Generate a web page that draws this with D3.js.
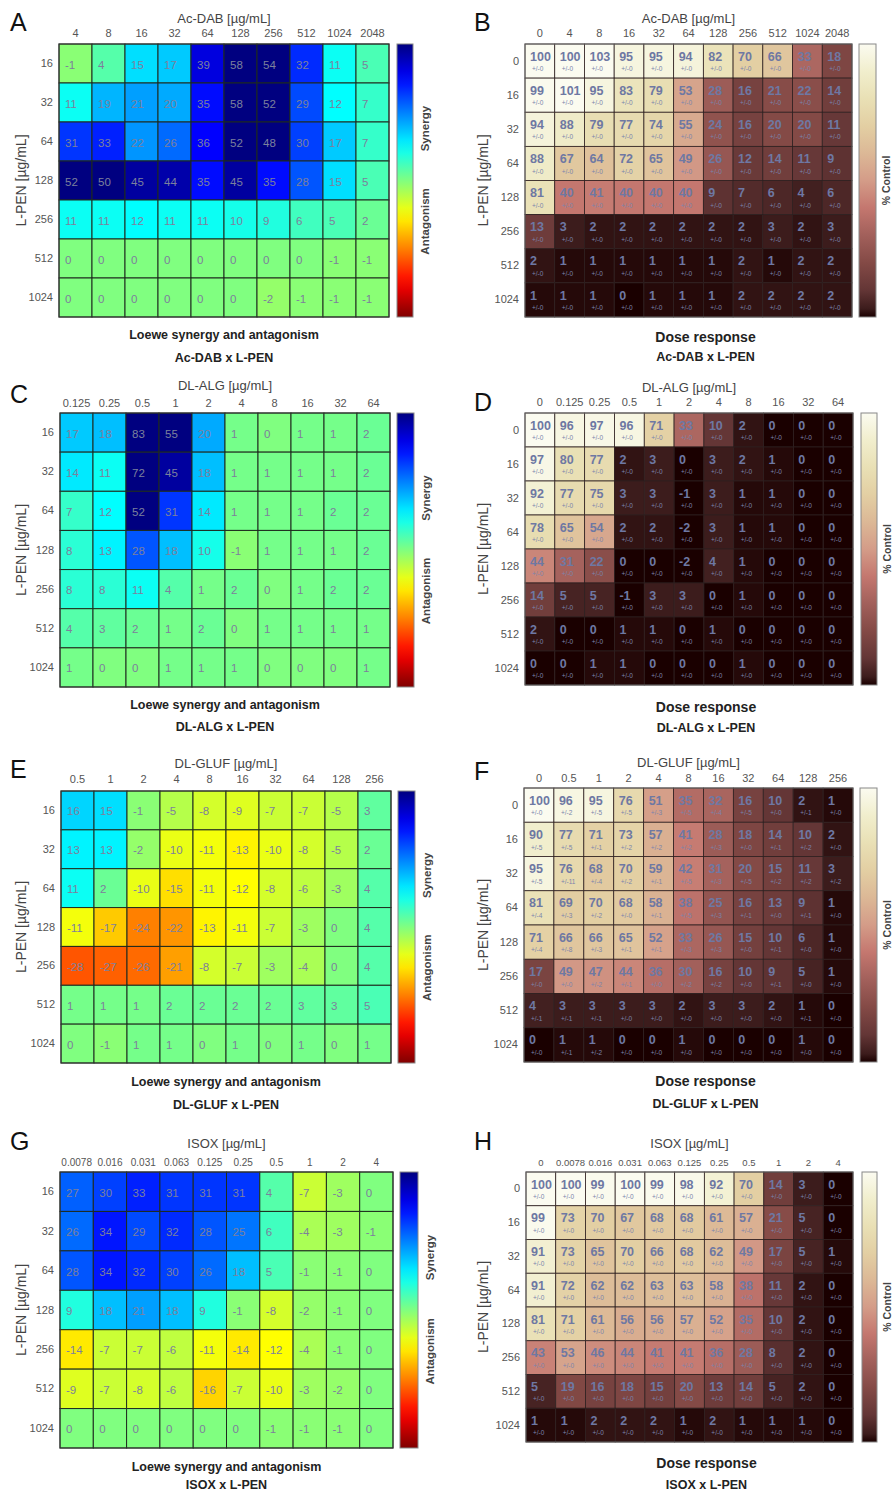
<!DOCTYPE html>
<html><head><meta charset="utf-8">
<script src="https://cdn.jsdelivr.net/npm/d3@7"></script>
<style>body{margin:0;background:#fff;} svg text{font-family:"Liberation Sans",Arial,sans-serif;}</style>
</head><body><svg id="c" width="892" height="1494"></svg>
<script>
// ---------- DATA ----------
const lpenLoewe = ["16","32","64","128","256","512","1024"];
const lpenDose = ["0","16","32","64","128","256","512","1024"];

const acdabLoeweX = ["4","8","16","32","64","128","256","512","1024","2048"];
const acdabLoewe = [
 [-1,4,15,17,39,58,54,32,11,5],
 [11,19,21,20,35,58,52,29,12,7],
 [31,33,22,26,36,52,48,30,17,7],
 [52,50,45,44,35,45,35,28,15,5],
 [11,11,12,11,11,10,9,6,5,2],
 [0,0,0,0,0,0,0,0,-1,-1],
 [0,0,0,0,0,0,-2,-1,-1,-1]];
const acdabDoseX = ["0","4","8","16","32","64","128","256","512","1024","2048"];
const acdabDose = [
 [100,100,103,95,95,94,82,70,66,33,18],
 [99,101,95,83,79,53,28,16,21,22,14],
 [94,88,79,77,74,55,24,16,20,20,11],
 [88,67,64,72,65,49,26,12,14,11,9],
 [81,40,41,40,40,40,9,7,6,4,6],
 [13,3,2,2,2,2,2,2,3,2,3],
 [2,1,1,1,1,1,1,2,1,2,2],
 [1,1,1,0,1,1,1,2,2,2,2]];
const acdabDoseErr = [
 [0,0,0,0,0,0,0,0,0,0,0],
 [0,0,0,0,0,0,0,0,0,0,0],
 [0,0,0,0,0,0,0,0,0,0,0],
 [0,0,0,0,0,0,0,0,0,0,0],
 [0,0,0,0,0,0,0,0,0,0,0],
 [0,0,0,0,0,0,0,0,0,0,0],
 [0,0,0,0,0,0,0,0,0,0,0],
 [0,0,0,0,0,0,0,0,0,0,0]];

const dlalgLoeweX = ["0.125","0.25","0.5","1","2","4","8","16","32","64"];
const dlalgLoewe = [
 [17,18,83,55,20,1,0,1,1,2],
 [14,11,72,45,18,1,1,1,1,2],
 [7,12,52,31,14,1,1,1,2,2],
 [8,13,28,18,10,-1,1,1,1,2],
 [8,8,11,4,1,2,0,1,2,2],
 [4,3,2,1,2,0,1,1,1,1],
 [1,0,0,1,1,1,0,0,0,1]];
const dlalgDoseX = ["0","0.125","0.25","0.5","1","2","4","8","16","32","64"];
const dlalgDose = [
 [100,96,97,96,71,33,10,2,0,0,0],
 [97,80,77,2,3,0,3,2,1,0,0],
 [92,77,75,3,3,-1,3,1,1,0,0],
 [78,65,54,2,2,-2,3,1,1,0,0],
 [44,31,22,0,0,-2,4,1,0,0,0],
 [14,5,5,-1,3,3,0,1,0,0,0],
 [2,0,0,1,1,0,1,0,0,0,0],
 [0,0,1,1,0,0,0,1,0,0,0]];
const dlalgDoseErr = [
 [0,0,0,0,0,0,0,0,0,0,0],
 [0,0,0,0,0,0,0,0,0,0,0],
 [0,0,0,0,0,0,0,0,0,0,0],
 [0,0,0,0,0,0,0,0,0,0,0],
 [0,0,0,0,0,0,0,0,0,0,0],
 [0,0,0,0,0,0,0,0,0,0,0],
 [0,0,0,0,0,0,0,0,0,0,0],
 [0,0,0,0,0,0,0,0,0,0,0]];

const dlglufLoeweX = ["0.5","1","2","4","8","16","32","64","128","256"];
const dlglufLoewe = [
 [16,15,-1,-5,-8,-9,-7,-7,-5,3],
 [13,13,-2,-10,-11,-13,-10,-8,-5,2],
 [11,2,-10,-15,-11,-12,-8,-6,-3,4],
 [-11,-17,-24,-22,-13,-11,-7,-3,0,4],
 [-28,-27,-26,-21,-8,-7,-3,-4,0,4],
 [1,1,1,2,2,2,2,3,3,5],
 [0,-1,1,1,0,1,0,1,0,1]];
const dlglufDoseX = ["0","0.5","1","2","4","8","16","32","64","128","256"];
const dlglufDose = [
 [100,96,95,76,51,35,32,16,10,2,1],
 [90,77,71,73,57,41,28,18,14,10,2],
 [95,76,68,70,59,42,31,20,15,11,3],
 [81,69,70,68,58,38,25,16,13,9,1],
 [71,66,66,65,52,33,26,15,10,6,1],
 [17,49,47,44,36,30,16,10,9,5,1],
 [4,3,3,3,3,2,3,3,2,1,0],
 [0,1,1,0,0,1,0,0,0,1,0]];
const dlglufDoseErr = [
 [0,2,5,5,3,5,4,5,0,1,0],
 [5,5,1,2,2,2,3,0,1,2,0],
 [5,11,4,2,1,5,3,5,2,2,2],
 [4,3,2,0,1,5,3,1,0,1,0],
 [4,8,3,1,1,3,3,0,1,0,0],
 [0,0,2,1,0,2,2,0,1,0,0],
 [1,1,1,0,0,0,0,0,0,1,0],
 [0,1,2,0,0,0,0,0,0,0,0]];

const isoxLoeweX = ["0.0078","0.016","0.031","0.063","0.125","0.25","0.5","1","2","4"];
const isoxLoewe = [
 [27,30,33,31,31,31,4,-7,-3,0],
 [26,34,29,32,28,25,6,-4,-3,-1],
 [28,34,32,30,26,18,5,-1,-1,0],
 [9,18,21,18,9,-1,-8,-2,-1,0],
 [-14,-7,-7,-6,-11,-14,-12,-4,-1,0],
 [-9,-7,-8,-6,-16,-7,-10,-3,-2,0],
 [0,0,0,0,0,0,-1,-1,-1,0]];
const isoxDoseX = ["0","0.0078","0.016","0.031","0.063","0.125","0.25","0.5","1","2","4"];
const isoxDose = [
 [100,100,99,100,99,98,92,70,14,3,0],
 [99,73,70,67,68,68,61,57,21,5,0],
 [91,73,65,70,66,68,62,49,17,5,1],
 [91,72,62,62,63,63,58,38,11,2,0],
 [81,71,61,56,56,57,52,35,10,2,0],
 [43,53,46,44,41,41,36,28,8,2,0],
 [5,19,16,18,15,20,13,14,5,2,0],
 [1,1,2,2,2,1,2,1,1,1,0]];
const isoxDoseErr = [
 [0,0,0,0,0,0,0,0,0,0,0],
 [0,0,0,0,0,0,0,0,0,0,0],
 [0,0,0,0,0,0,0,0,0,0,0],
 [0,0,0,0,0,0,0,0,0,0,0],
 [0,0,0,0,0,0,0,0,0,0,0],
 [0,0,0,0,0,0,0,0,0,0,0],
 [0,0,0,0,0,0,0,0,0,0,0],
 [0,0,0,0,0,0,0,0,0,0,0]];

// ---------- COLOUR SCALES ----------
const FONT = '"Liberation Sans",Arial,sans-serif';
function jet(x){const c=v=>Math.max(0,Math.min(1,v));
  return d3.rgb(255*c(1.5-Math.abs(4*x-3)),255*c(1.5-Math.abs(4*x-2)),255*c(1.5-Math.abs(4*x-1))).toString();}
const loewePos = d3.scaleLinear().domain([48,-48]).range([0,1]).clamp(true);
const loeweColor = v => jet(loewePos(v));
const doseStops = [0,3,10,20,30,40,50,60,70,80,90,100];
const doseCols = ["#1a0000","#3c1c1c","#643636","#844a46","#a2605b","#c4776f","#d49c88","#dcb896","#e3cfa3","#e9e0b5","#f1eecd","#fbfbf0"];
const doseColor = d3.scaleLinear().domain(doseStops).range(doseCols).clamp(true);

// ---------- LAYOUT ----------
const panels = [
 {type:"loewe",letter:"A",drug:"Ac-DAB",xs:acdabLoeweX,ys:lpenLoewe,vals:acdabLoewe,g:[59,389,44,317],cb:[397,413],tY:18,kY:33,b1:335,b2:358,L:[10,31],yT:21,kF:11},
 {type:"dose",letter:"B",drug:"Ac-DAB",xs:acdabDoseX,ys:lpenDose,vals:acdabDose,err:acdabDoseErr,g:[525,852,44,317],cb:[859,876],tY:18,kY:33,b1:337,b2:357,L:[474,31],yT:483,kF:11},
 {type:"loewe",letter:"C",drug:"DL-ALG",xs:dlalgLoeweX,ys:lpenLoewe,vals:dlalgLoewe,g:[60,390,413,687],cb:[397,414],tY:385,kY:403,b1:705,b2:727,L:[10,403],yT:21,kF:11},
 {type:"dose",letter:"D",drug:"DL-ALG",xs:dlalgDoseX,ys:lpenDose,vals:dlalgDose,err:dlalgDoseErr,g:[525,853,413,685],cb:[861,877],tY:387,kY:402,b1:707,b2:728,L:[474,411],yT:483,kF:11},
 {type:"loewe",letter:"E",drug:"DL-GLUF",xs:dlglufLoeweX,ys:lpenLoewe,vals:dlglufLoewe,g:[61,391,791,1063],cb:[398,415],tY:763,kY:779,b1:1082,b2:1105,L:[10,778],yT:21,kF:11},
 {type:"dose",letter:"F",drug:"DL-GLUF",xs:dlglufDoseX,ys:lpenDose,vals:dlglufDose,err:dlglufDoseErr,g:[524,853,788,1062],cb:[860,877],tY:762,kY:778,b1:1081,b2:1104,L:[474,780],yT:483,kF:11},
 {type:"loewe",letter:"G",drug:"ISOX",xs:isoxLoeweX,ys:lpenLoewe,vals:isoxLoewe,g:[60,393,1172,1448],cb:[400,418],tY:1143,kY:1162,b1:1467,b2:1485,L:[10,1150],yT:21,kF:10},
 {type:"dose",letter:"H",drug:"ISOX",xs:isoxDoseX,ys:lpenDose,vals:isoxDose,err:isoxDoseErr,g:[526,853,1172,1442],cb:[862,877],tY:1143,kY:1162,b1:1463,b2:1485,L:[474,1150],yT:483,kF:9.5}
];

const svg = d3.select("#c");
const defs = svg.append("defs");
const gL = defs.append("linearGradient").attr("id","jetGrad").attr("x1",0).attr("y1",0).attr("x2",0).attr("y2",1);
d3.range(0,1.0001,0.05).forEach(t=>gL.append("stop").attr("offset",t).attr("stop-color",jet(t)));
const gD = defs.append("linearGradient").attr("id","doseGrad").attr("x1",0).attr("y1",1).attr("x2",0).attr("y2",0);
doseStops.forEach((s,i)=>gD.append("stop").attr("offset",s/100).attr("stop-color",doseCols[i]));

panels.forEach(p=>{
  const [x0,x1,y0,y1] = p.g;
  const x = d3.scaleBand().domain(p.xs).range([x0,x1]);
  const y = d3.scaleBand().domain(p.ys).range([y0,y1]);
  const cells = [];
  p.vals.forEach((row,i)=>row.forEach((v,j)=>cells.push({r:p.ys[i],c:p.xs[j],v:v,e:p.err?p.err[i][j]:null})));
  const G = svg.append("g");
  const isL = p.type==="loewe";
  const col = isL ? loeweColor : doseColor;
  G.selectAll("rect.cell").data(cells).join("rect").attr("class","cell")
    .attr("x",d=>x(d.c)).attr("y",d=>y(d.r)).attr("width",x.bandwidth()).attr("height",y.bandwidth())
    .attr("fill",d=>col(d.v)).attr("stroke",isL?"#1e2a1e":"#2e2020").attr("stroke-width",isL?1:0.8);
  G.append("rect").attr("x",x0).attr("y",y0).attr("width",x1-x0).attr("height",y1-y0)
    .attr("fill","none").attr("stroke",isL?"#333":"#666").attr("stroke-width",1);
  if(isL){
    G.selectAll("text.val").data(cells).join("text").attr("class","val")
      .attr("x",d=>x(d.c)+6).attr("y",d=>y(d.r)+y.bandwidth()/2+1).attr("dy","0.35em")
      .attr("font-size",11.5).attr("fill","#7d809c").text(d=>d.v);
  } else {
    G.selectAll("text.val").data(cells).join("text").attr("class","val")
      .attr("x",d=>x(d.c)+5).attr("y",d=>y(d.r)+y.bandwidth()*0.36).attr("dy","0.35em")
      .attr("font-size",12.5).attr("font-weight","bold").attr("fill","#6e78a3").text(d=>d.v);
    G.selectAll("text.err").data(cells).join("text").attr("class","err")
      .attr("x",d=>x(d.c)+7).attr("y",d=>y(d.r)+y.bandwidth()*0.73).attr("dy","0.35em")
      .attr("font-size",6.5).attr("fill","#7a84ac").text(d=>"+/-"+d.e);
  }
  const ax = G.append("g").attr("transform",`translate(0,${y0})`)
    .call(d3.axisTop(x).tickSize(0).tickPadding(y0-p.kY-4));
  ax.select(".domain").remove();
  ax.attr("font-family",FONT).attr("font-size",p.kF);
  ax.selectAll("text").attr("fill","#555");
  const ay = G.append("g").attr("transform",`translate(${x0},0)`)
    .call(d3.axisLeft(y).tickSize(0).tickPadding(6));
  ay.select(".domain").remove();
  ay.attr("font-family",FONT).attr("font-size",11);
  ay.selectAll("text").attr("fill","#555");
  G.append("text").attr("x",(x0+x1)/2).attr("y",p.tY).attr("dy","0.35em").attr("text-anchor","middle")
    .attr("font-size",13).attr("fill","#444").text(p.drug+" [µg/mL]");
  G.append("text").attr("transform",`translate(${p.yT},${(y0+y1)/2}) rotate(-90)`).attr("dy","0.35em")
    .attr("text-anchor","middle").attr("font-size",14).attr("fill","#444").text("L-PEN [µg/mL]");
  const bx = isL ? (x0+x1)/2 : (x0+x1)/2+17;
  G.append("text").attr("x",bx).attr("y",p.b1).attr("dy","0.35em").attr("text-anchor","middle")
    .attr("font-weight","bold").attr("font-size",isL?12.5:14).attr("fill","#222")
    .text(isL?"Loewe synergy and antagonism":"Dose response");
  G.append("text").attr("x",bx).attr("y",p.b2).attr("dy","0.35em").attr("text-anchor","middle")
    .attr("font-weight","bold").attr("font-size",12.5).attr("fill","#222").text(p.drug+" x L-PEN");
  G.append("text").attr("x",p.L[0]).attr("y",p.L[1]).attr("font-size",25).attr("fill","#111").text(p.letter);
  const [c0,c1] = p.cb;
  G.append("rect").attr("x",c0).attr("y",y0).attr("width",c1-c0).attr("height",y1-y0)
    .attr("fill",isL?"url(#jetGrad)":"url(#doseGrad)").attr("stroke","#888").attr("stroke-width",1);
  if(isL){
    G.append("text").attr("transform",`translate(${c1+12},${y0+(y1-y0)*0.31}) rotate(-90)`).attr("dy","0.35em")
      .attr("text-anchor","middle").attr("font-size",11.5).attr("font-weight","bold").attr("fill","#444").text("Synergy");
    G.append("text").attr("transform",`translate(${c1+12},${y0+(y1-y0)*0.65}) rotate(-90)`).attr("dy","0.35em")
      .attr("text-anchor","middle").attr("font-size",11.5).attr("font-weight","bold").attr("fill","#444").text("Antagonism");
  } else {
    G.append("text").attr("transform",`translate(${c1+10},${(y0+y1)/2}) rotate(-90)`).attr("dy","0.35em")
      .attr("text-anchor","middle").attr("font-size",10.5).attr("font-weight","bold").attr("fill","#444").text("% Control");
  }
});
</script></body></html>
